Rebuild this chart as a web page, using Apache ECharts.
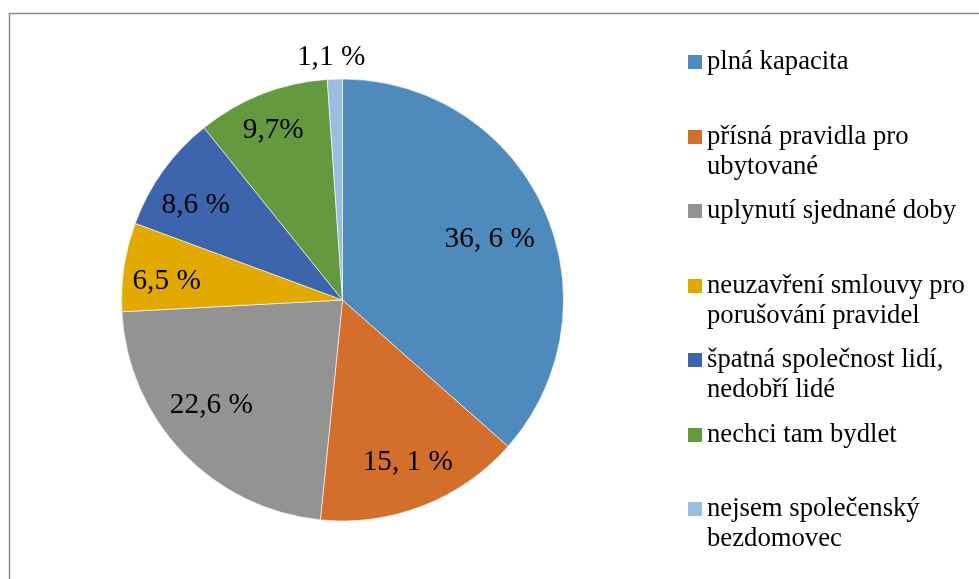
<!DOCTYPE html>
<html>
<head>
<meta charset="utf-8">
<script src="https://cdn.jsdelivr.net/npm/echarts@6/dist/echarts.min.js"></script>
<style>
  html, body { margin: 0; padding: 0; background: #fff; }
  #chart { width: 979px; height: 579px; }
</style>
</head>
<body>
<div id="chart"></div>
<script>
// ---- data ----
const categories = [
  'plná kapacita',
  'přísná pravidla pro\nubytované',
  'uplynutí sjednané doby',
  'neuzavření smlouvy pro\nporušování pravidel',
  'špatná společnost lidí,\nnedobří lidé',
  'nechci tam bydlet',
  'nejsem společenský\nbezdomovec'
];
const values = [36.6, 15.1, 22.6, 6.5, 8.6, 9.7, 1.1];
const valueLabels = ['36, 6 %', '15, 1 %', '22,6 %', '6,5 %', '8,6 %', '9,7%', '1,1 %'];

// ---- styles ----
const colors = ['#4f8abd', '#d46f2b', '#939393', '#e2a900', '#3d65ae', '#64993f', '#9cbce1'];
const labelRadiusFrac = [0.72, 0.79, 0.76, 0.80, 0.79, 0.83, 1.10];
const labelAngleShift = [2, -0.6, 5, -2.7, -3, -0.8, -0.7];
const legendMarkerTops = [55, 130, 204, 279, 353, 428, 502];

const CX = 342.5, CY = 300, R = 221;
const serif = '"Liberation Serif", "Times New Roman", serif';

const chart = echarts.init(document.getElementById('chart'), null, { renderer: 'canvas' });

const legends = categories.map(function (name, i) {
  const twoLine = name.indexOf('\n') >= 0;
  return {
    show: true,
    orient: 'vertical',
    left: 688,
    top: legendMarkerTops[i] - 8,
    padding: 0,
    itemWidth: 14,
    itemHeight: twoLine ? 44 : 14,
    icon: twoLine ? 'path://M0,0H14V14H0Z M0,44H0.001V44.001H0Z' : 'rect',
    itemStyle: { borderWidth: 0 },
    selectedMode: false,
    data: [name],
    textStyle: {
      fontFamily: serif,
      fontSize: 26.7,
      lineHeight: 30,
      color: '#000'
    }
  };
});

const option = {
  animation: false,
  backgroundColor: '#fff',
  color: colors,
  graphic: [{
    type: 'rect',
    silent: true,
    shape: { x: 9.5, y: 13.5, width: 1000, height: 1000 },
    style: { fill: 'none', stroke: '#8a8a8a', lineWidth: 1.5 }
  }],
  legend: legends,
  series: [{
    type: 'pie',
    center: [CX, CY],
    radius: [0, R],
    startAngle: 90,
    clockwise: true,
    avoidLabelOverlap: false,
    emphasis: { disabled: true },
    itemStyle: { borderColor: '#ffffff', borderWidth: 0.6 },
    label: {
      show: true,
      position: 'inside',
      fontFamily: serif,
      fontSize: 29.3,
      color: '#000',
      formatter: function (p) { return valueLabels[p.dataIndex]; }
    },
    labelLine: { show: false },
    labelLayout: function (params) {
      const i = params.dataIndex;
      const lr = params.labelRect;
      const lx = lr.x + lr.width / 2, ly = lr.y + lr.height / 2;
      let th = Math.atan2(lx - CX, -(ly - CY));
      th += labelAngleShift[i] * Math.PI / 180;
      const rr = labelRadiusFrac[i] * R;
      return {
        x: CX + rr * Math.sin(th),
        y: CY - rr * Math.cos(th),
        align: 'center',
        verticalAlign: 'middle'
      };
    },
    data: categories.map(function (c, i) { return { name: c, value: values[i] }; })
  }]
};

chart.setOption(option);
</script>
</body>
</html>
